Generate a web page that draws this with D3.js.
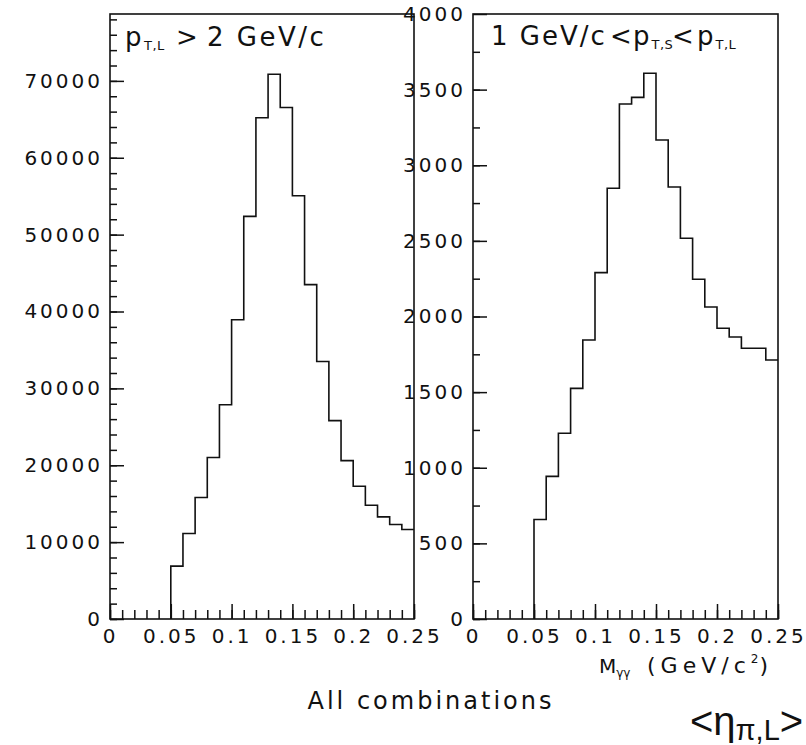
<!DOCTYPE html>
<html lang="en">
<head>
<meta charset="UTF-8">
<script src="https://d3js.org/d3.v7.min.js"></script>
<title>M gamma gamma</title>
<style>
  body { margin: 0; background: #fff; }
  svg text { font-family: "DejaVu Sans", sans-serif; fill: #111; }
  .tick text { font-size: 20px; letter-spacing: 3px; }
  .tick line { stroke: #111; stroke-width: 1.5; }
</style>
</head>
<body>
<svg width="806" height="745"></svg>
<script>
// bin lower edges (GeV/c^2), bin width 0.01
var binLow = [0.05, 0.06, 0.07, 0.08, 0.09, 0.10, 0.11, 0.12, 0.13, 0.14,
              0.15, 0.16, 0.17, 0.18, 0.19, 0.20, 0.21, 0.22, 0.23, 0.24];
var binHigh = 0.25;

// p_T,L > 2 GeV/c
var leftCounts = [6880, 11130, 15800, 21000, 27880, 38920, 52380, 65200, 70870, 66530,
                  55060, 43500, 33500, 25800, 20600, 17270, 14800, 13290, 12300, 11650];
// 1 GeV/c < p_T,S < p_T,L
var rightCounts = [658, 943, 1228, 1525, 1845, 2290, 2848, 3405, 3449, 3608,
                   3167, 2856, 2517, 2246, 2063, 1922, 1864, 1790, 1790, 1712];

var xTicks = [0, 0.05, 0.1, 0.15, 0.2, 0.25];
var xTickLabels = ["0", "0.05", "0.1", "0.15", "0.2", "0.25"];
var leftYTicks = [0, 10000, 20000, 30000, 40000, 50000, 60000, 70000];
var rightYTicks = [0, 500, 1000, 1500, 2000, 2500, 3000, 3500, 4000];

var svg = d3.select("svg");

function drawPanel(p) {
  var x = d3.scaleLinear().domain([0, 0.25]).range([p.left, p.right]);
  var y = d3.scaleLinear().domain([0, p.ymax]).range([p.bottom, p.top]);
  var g = svg.append("g");

  // minor ticks
  g.append("g")
    .attr("transform", "translate(0," + p.bottom + ")")
    .call(d3.axisBottom(x).tickValues(d3.range(0, 0.2501, 0.01)).tickSize(-9).tickFormat(""))
    .call(function(s) { s.select(".domain").remove(); });
  g.append("g")
    .attr("transform", "translate(" + p.left + ",0)")
    .call(d3.axisLeft(y).tickValues(d3.range(0, p.ymax, p.minor)).tickSize(-7).tickFormat(""))
    .call(function(s) { s.select(".domain").remove(); });

  // major ticks + labels
  g.append("g")
    .attr("transform", "translate(0," + p.bottom + ")")
    .call(d3.axisBottom(x).tickValues(xTicks).tickSize(-15).tickPadding(10)
      .tickFormat(function(d, i) { return xTickLabels[i]; }))
    .call(function(s) { s.select(".domain").remove(); });
  g.append("g")
    .attr("transform", "translate(" + p.left + ",0)")
    .call(d3.axisLeft(y).tickValues(p.yTicks).tickSize(-14).tickPadding(7)
      .tickFormat(d3.format("d")))
    .call(function(s) { s.select(".domain").remove(); });

  g.selectAll(".tick text").attr("fill", "#111");

  // histogram outline
  var pts = [[binLow[0], 0]];
  p.counts.forEach(function(c, i) { pts.push([binLow[i], c]); });
  pts.push([binHigh, p.counts[p.counts.length - 1]]);
  var line = d3.line()
    .x(function(d) { return x(d[0]); })
    .y(function(d) { return y(d[1]); })
    .curve(d3.curveStepAfter);
  g.append("path")
    .attr("d", line(pts))
    .attr("fill", "none")
    .attr("stroke", "#111")
    .attr("stroke-width", 1.6);

  // frame
  g.append("rect")
    .attr("x", p.left).attr("y", p.top)
    .attr("width", p.right - p.left).attr("height", p.bottom - p.top)
    .attr("fill", "none").attr("stroke", "#111").attr("stroke-width", 1.6);
}

drawPanel({left: 110, right: 414, top: 14, bottom: 619, ymax: 78700, minor: 2000,
           yTicks: leftYTicks, counts: leftCounts});
drawPanel({left: 473, right: 778, top: 14, bottom: 619, ymax: 4000, minor: 250,
           yTicks: rightYTicks, counts: rightCounts});

// panel titles
var t1 = svg.append("text").attr("y", 46).attr("font-size", 26).attr("letter-spacing", 2.5);
t1.append("tspan").attr("x", 125).text("p");
t1.append("tspan").attr("font-size", 13).attr("dy", 4).attr("letter-spacing", 0.5).text("T,L");
t1.append("tspan").attr("x", 176).attr("dy", -4).text(">");
t1.append("tspan").attr("x", 207).text("2 GeV/c");

var t2 = svg.append("text").attr("y", 45).attr("font-size", 26).attr("letter-spacing", 2);
t2.append("tspan").attr("x", 491).text("1 GeV/c");
t2.append("tspan").attr("x", 610).attr("letter-spacing", 0).text("<");
t2.append("tspan").attr("x", 633).text("p");
t2.append("tspan").attr("font-size", 13).attr("dy", 4).attr("letter-spacing", 0.5).text("T,S");
t2.append("tspan").attr("x", 672).attr("dy", -4).attr("letter-spacing", 0).text("<");
t2.append("tspan").attr("x", 697).text("p");
t2.append("tspan").attr("font-size", 13).attr("dy", 4).attr("letter-spacing", 0.5).text("T,L");

// x axis title
var xt = svg.append("text").attr("y", 673).attr("font-size", 22).attr("letter-spacing", 5);
xt.append("tspan").attr("x", 599).attr("font-size", 20).attr("letter-spacing", 0).text("M");
xt.append("tspan").attr("font-size", 12).attr("dy", 4).attr("letter-spacing", 0).text("γγ");
xt.append("tspan").attr("x", 647).attr("dy", -4).text("(GeV/c");
xt.append("tspan").attr("font-size", 12).attr("dy", -10).attr("letter-spacing", 1).text("2");
xt.append("tspan").attr("dy", 10).text(")");

svg.append("text")
  .attr("x", 431).attr("y", 709)
  .attr("text-anchor", "middle")
  .attr("font-size", 24).attr("letter-spacing", 3)
  .text("All combinations");

// bottom-right fragment
var eta = svg.append("text").attr("y", 735)
  .style("font-family", "'Liberation Sans', Arial, sans-serif").attr("font-size", 40);
eta.append("tspan").attr("x", 690).text("<η");
eta.append("tspan").attr("font-size", 29).attr("dy", 5).text("π,L");
eta.append("tspan").attr("dy", -5).text(">");
</script>
</body>
</html>
